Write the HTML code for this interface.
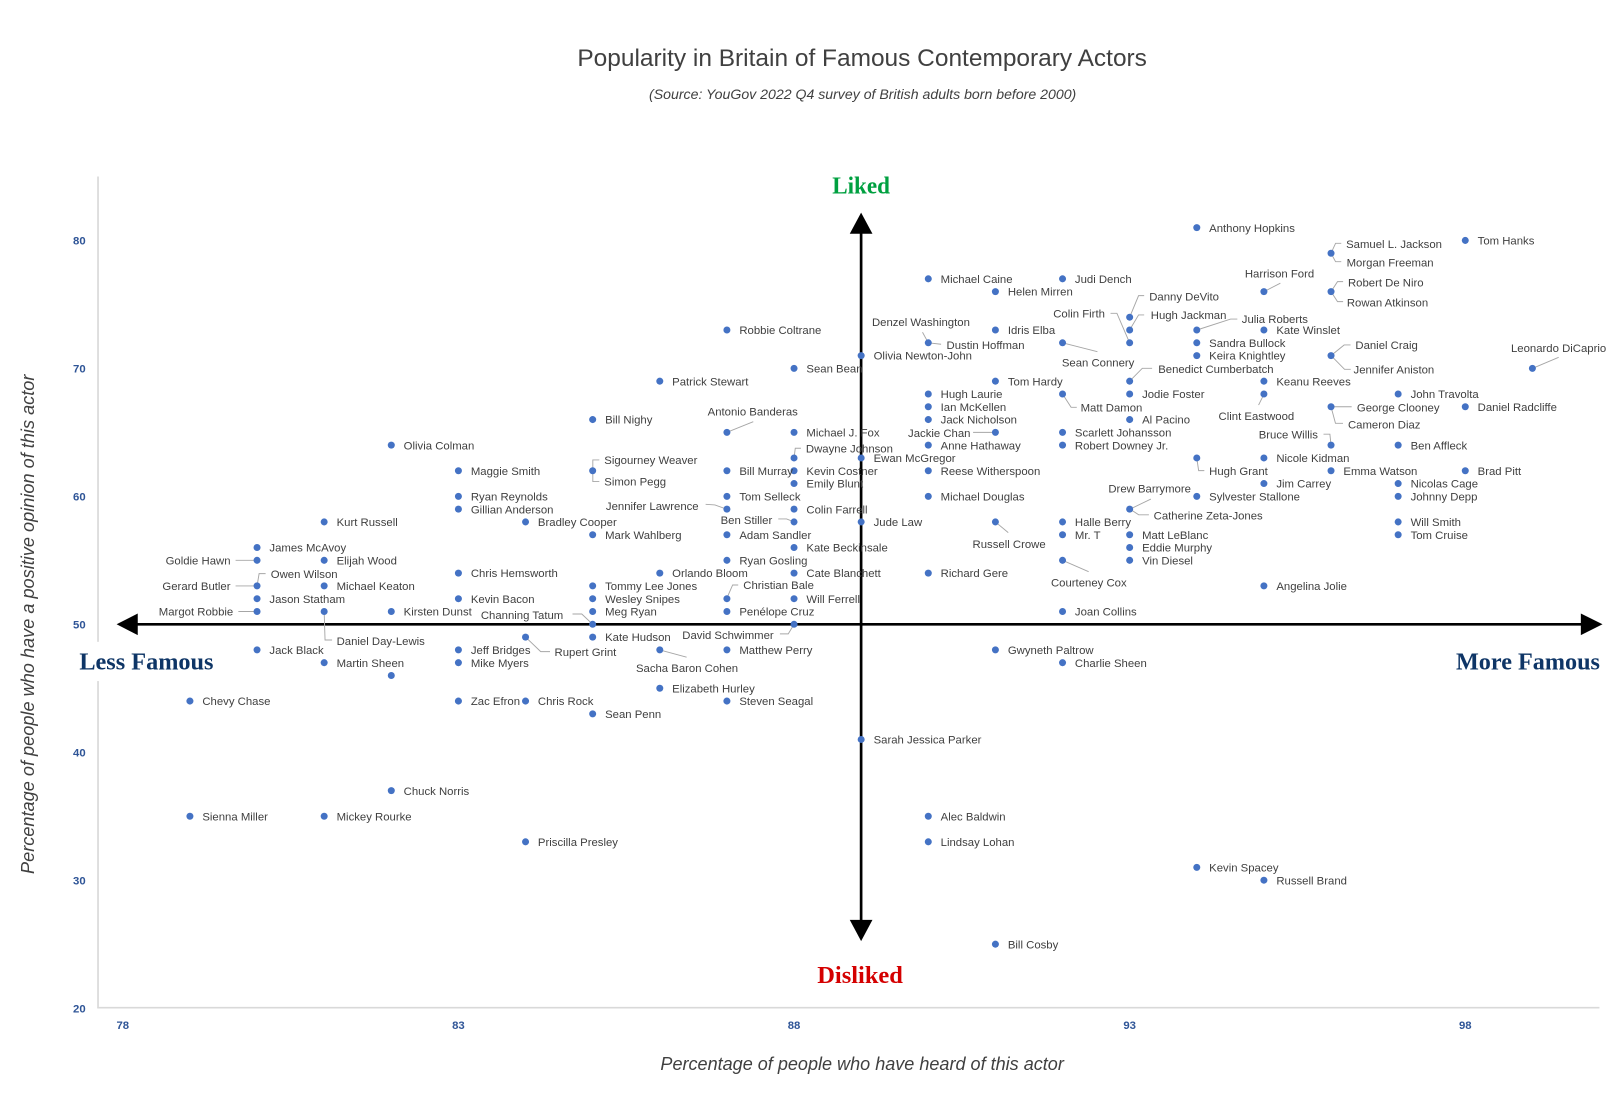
<!DOCTYPE html>
<html>
<head>
<meta charset="utf-8">
<style>
html,body{margin:0;padding:0;background:#fff;}
svg{display:block;}
.l{font-family:"Liberation Sans",Arial,sans-serif;font-size:11px;fill:#404040;}
.d{fill:#4472c4;}
.ld{fill:none;stroke:#a6a6a6;stroke-width:0.9;}
.tk{font-family:"Liberation Sans",Arial,sans-serif;font-size:11px;font-weight:bold;fill:#2f5597;}
.big{font-family:"Liberation Serif","DejaVu Serif",serif;font-weight:bold;font-size:24px;}
</style>
</head>
<body>
<svg width="1618" height="1100" viewBox="0 0 1568 1066" xmlns="http://www.w3.org/2000/svg">
<rect x="0" y="0" width="1568" height="1066" fill="#fff"/>

<!-- titles -->
<text x="835.5" y="64" text-anchor="middle" textLength="552" lengthAdjust="spacingAndGlyphs" style="font-family:'Liberation Sans',Arial,sans-serif;font-size:23.5px;fill:#404040;">Popularity in Britain of Famous Contemporary Actors</text>
<text x="836" y="96" text-anchor="middle" textLength="414" lengthAdjust="spacingAndGlyphs" style="font-family:'Liberation Sans',Arial,sans-serif;font-size:13.5px;font-style:italic;fill:#404040;">(Source:  YouGov 2022 Q4 survey of British adults born before 2000)</text>
<text transform="translate(33,605) rotate(-90)" text-anchor="middle" textLength="484" lengthAdjust="spacingAndGlyphs" style="font-family:'Liberation Sans',Arial,sans-serif;font-size:17.5px;font-style:italic;fill:#404040;">Percentage of people who have a positive opinion of this actor</text>
<text x="835.5" y="1037" text-anchor="middle" textLength="391" lengthAdjust="spacingAndGlyphs" style="font-family:'Liberation Sans',Arial,sans-serif;font-size:17.5px;font-style:italic;fill:#404040;">Percentage of people who have heard of this actor</text>

<!-- axes -->
<line x1="95" y1="171" x2="95" y2="976.5" stroke="#d9d9d9" stroke-width="1.6"/>
<line x1="94.2" y1="976.5" x2="1550" y2="976.5" stroke="#d9d9d9" stroke-width="1.6"/>

<!-- y ticks -->
<text class="tk" x="83" y="237" text-anchor="end">80</text>
<text class="tk" x="83" y="361" text-anchor="end">70</text>
<text class="tk" x="83" y="485" text-anchor="end">60</text>
<text class="tk" x="83" y="609" text-anchor="end">50</text>
<text class="tk" x="83" y="733" text-anchor="end">40</text>
<text class="tk" x="83" y="857" text-anchor="end">30</text>
<text class="tk" x="83" y="981" text-anchor="end">20</text>
<!-- x ticks -->
<text class="tk" x="119" y="997" text-anchor="middle">78</text>
<text class="tk" x="444.25" y="997" text-anchor="middle">83</text>
<text class="tk" x="769.5" y="997" text-anchor="middle">88</text>
<text class="tk" x="1094.75" y="997" text-anchor="middle">93</text>
<text class="tk" x="1420" y="997" text-anchor="middle">98</text>

<!-- Less famous box -->
<rect x="70" y="622" width="145" height="38" fill="#fff"/>
<text class="big" x="76.9" y="649" textLength="130" lengthAdjust="spacingAndGlyphs" fill="#0e3566">Less Famous</text>
<text class="big" x="1411" y="648.6" textLength="139.5" lengthAdjust="spacingAndGlyphs" fill="#0e3566">More Famous</text>
<text class="big" x="806.5" y="187.3" textLength="56" lengthAdjust="spacingAndGlyphs" fill="#00a040">Liked</text>
<text class="big" x="792" y="952.5" textLength="83" lengthAdjust="spacingAndGlyphs" fill="#d40000">Disliked</text>

<!-- arrows -->
<line x1="130" y1="605" x2="1536" y2="605" stroke="#000" stroke-width="2.6"/>
<polygon points="113,605 133.5,594.5 133.5,615.5" fill="#000"/>
<polygon points="1553,605 1532,594.5 1532,615.5" fill="#000"/>
<line x1="834.5" y1="222" x2="834.5" y2="895" stroke="#000" stroke-width="2.6"/>
<polygon points="834.5,206 823.5,226.5 845.5,226.5" fill="#000"/>
<polygon points="834.5,912 823.5,891.5 845.5,891.5" fill="#000"/>

<!-- leader lines -->
<polyline class="ld" points="1299.8,235.8 1294.3,235.8 1289.9,245.4 1294.3,253.6 1299.8,253.6"/>
<polyline class="ld" points="1301.6,272.9 1296.2,272.9 1289.9,282.6 1296.2,292.3 1301.6,292.3"/>
<polyline class="ld" points="1225.2,282.5 1240.8,274.4"/>
<polyline class="ld" points="1094.7,307.5 1103.4,286.5 1108.8,286.5"/>
<polyline class="ld" points="1094.7,319.8 1103.4,305.2 1108.8,305.2"/>
<polyline class="ld" points="1076.2,303.6 1082.4,303.6 1094.7,332.2"/>
<polyline class="ld" points="1159.9,319.8 1192.6,309.2 1199.1,309.2"/>
<polyline class="ld" points="894,322 899.6,332.2"/>
<polyline class="ld" points="899.6,332.2 912,333.6"/>
<polyline class="ld" points="1029.7,332.2 1063.5,340.8"/>
<polyline class="ld" points="1308.8,334.3 1302.6,334.3 1289.9,344.6 1303,357.9 1309,357.9"/>
<polyline class="ld" points="1485,357 1510.5,346.3"/>
<polyline class="ld" points="1094.7,369.4 1107,356.9 1116.5,356.9"/>
<polyline class="ld" points="1029.7,381.8 1038,394.7 1043.5,394.7"/>
<polyline class="ld" points="1225,381.8 1219.7,392.5"/>
<polyline class="ld" points="1289.9,394.2 1309.9,394.2"/>
<polyline class="ld" points="1289.9,394.2 1294.2,410.2 1301.5,410.2"/>
<polyline class="ld" points="704.45,419 730,408.6"/>
<polyline class="ld" points="943,419 964.65,419"/>
<polyline class="ld" points="1282.6,420.8 1288.8,420.8 1289.9,431.4"/>
<polyline class="ld" points="769.5,443.8 770.7,434.4 776.2,434.4"/>
<polyline class="ld" points="580.8,445.7 574.5,445.7 574.5,466.7 580.8,466.7"/>
<polyline class="ld" points="1159.8,443.8 1161.6,456.1 1167.1,456.1"/>
<polyline class="ld" points="683.8,488.7 692.8,489.3 704.2,493.4"/>
<polyline class="ld" points="754.2,502.9 762.3,502.9 769.5,505.8"/>
<polyline class="ld" points="964.65,505.8 977.1,516.2"/>
<polyline class="ld" points="1115.3,483.6 1095.1,493.4"/>
<polyline class="ld" points="1095.1,493.4 1103.5,498.9 1113.4,498.9"/>
<polyline class="ld" points="1029.7,543 1055,554"/>
<polyline class="ld" points="228.3,543 249.1,543"/>
<polyline class="ld" points="257.4,555.9 251.1,555.9 249.1,567.8"/>
<polyline class="ld" points="228.3,567.8 249.1,567.8"/>
<polyline class="ld" points="231,592.6 249.1,592.6"/>
<polyline class="ld" points="314.15,592.6 315,620.2 321.8,620.2"/>
<polyline class="ld" points="704.2,580.2 710,566.9 715.4,566.9"/>
<polyline class="ld" points="554.8,595 563.8,595 574.35,605"/>
<polyline class="ld" points="755.8,614.3 763.9,614.3 769.5,605"/>
<polyline class="ld" points="509.3,617.4 524,631.5 533,631.5"/>
<polyline class="ld" points="639.4,629.8 665.4,636.9"/>

<!-- dots -->
<g class="d">
<circle cx="1159.8" cy="220.6" r="3.4"/>
<circle cx="1420" cy="233" r="3.4"/>
<circle cx="1289.9" cy="245.4" r="3.4"/>
<circle cx="899.6" cy="270.2" r="3.4"/>
<circle cx="1029.7" cy="270.2" r="3.4"/>
<circle cx="964.65" cy="282.6" r="3.4"/>
<circle cx="1224.85" cy="282.6" r="3.4"/>
<circle cx="1289.9" cy="282.6" r="3.4"/>
<circle cx="1094.75" cy="307.4" r="3.4"/>
<circle cx="1094.75" cy="319.8" r="3.4"/>
<circle cx="1094.75" cy="332.2" r="3.4"/>
<circle cx="1159.8" cy="319.8" r="3.4"/>
<circle cx="1224.85" cy="319.8" r="3.4"/>
<circle cx="704.45" cy="319.8" r="3.4"/>
<circle cx="964.65" cy="319.8" r="3.4"/>
<circle cx="899.6" cy="332.2" r="3.4"/>
<circle cx="1029.7" cy="332.2" r="3.4"/>
<circle cx="1159.8" cy="332.2" r="3.4"/>
<circle cx="1159.8" cy="344.6" r="3.4"/>
<circle cx="1289.9" cy="344.6" r="3.4"/>
<circle cx="1485.05" cy="357" r="3.4"/>
<circle cx="834.55" cy="344.6" r="3.4"/>
<circle cx="769.5" cy="357" r="3.4"/>
<circle cx="1094.75" cy="369.4" r="3.4"/>
<circle cx="639.4" cy="369.4" r="3.4"/>
<circle cx="964.65" cy="369.4" r="3.4"/>
<circle cx="1224.85" cy="369.4" r="3.4"/>
<circle cx="899.6" cy="381.8" r="3.4"/>
<circle cx="1029.7" cy="381.8" r="3.4"/>
<circle cx="1094.75" cy="381.8" r="3.4"/>
<circle cx="1224.85" cy="381.8" r="3.4"/>
<circle cx="1354.95" cy="381.8" r="3.4"/>
<circle cx="899.6" cy="394.2" r="3.4"/>
<circle cx="1289.9" cy="394.2" r="3.4"/>
<circle cx="1420" cy="394.2" r="3.4"/>
<circle cx="574.35" cy="406.6" r="3.4"/>
<circle cx="899.6" cy="406.6" r="3.4"/>
<circle cx="1094.75" cy="406.6" r="3.4"/>
<circle cx="704.45" cy="419" r="3.4"/>
<circle cx="769.5" cy="419" r="3.4"/>
<circle cx="964.65" cy="419" r="3.4"/>
<circle cx="1029.7" cy="419" r="3.4"/>
<circle cx="1289.9" cy="431.4" r="3.4"/>
<circle cx="379.2" cy="431.4" r="3.4"/>
<circle cx="899.6" cy="431.4" r="3.4"/>
<circle cx="1029.7" cy="431.4" r="3.4"/>
<circle cx="1354.95" cy="431.4" r="3.4"/>
<circle cx="769.5" cy="443.8" r="3.4"/>
<circle cx="834.55" cy="443.8" r="3.4"/>
<circle cx="1159.8" cy="443.8" r="3.4"/>
<circle cx="1224.85" cy="443.8" r="3.4"/>
<circle cx="574.35" cy="456.2" r="3.4"/>
<circle cx="444.25" cy="456.2" r="3.4"/>
<circle cx="704.45" cy="456.2" r="3.4"/>
<circle cx="769.5" cy="456.2" r="3.4"/>
<circle cx="899.6" cy="456.2" r="3.4"/>
<circle cx="1289.9" cy="456.2" r="3.4"/>
<circle cx="1420" cy="456.2" r="3.4"/>
<circle cx="769.5" cy="468.6" r="3.4"/>
<circle cx="1224.85" cy="468.6" r="3.4"/>
<circle cx="1354.95" cy="468.6" r="3.4"/>
<circle cx="444.25" cy="481" r="3.4"/>
<circle cx="704.45" cy="481" r="3.4"/>
<circle cx="899.6" cy="481" r="3.4"/>
<circle cx="1159.8" cy="481" r="3.4"/>
<circle cx="1354.95" cy="481" r="3.4"/>
<circle cx="1094.75" cy="493.4" r="3.4"/>
<circle cx="444.25" cy="493.4" r="3.4"/>
<circle cx="704.45" cy="493.4" r="3.4"/>
<circle cx="769.5" cy="493.4" r="3.4"/>
<circle cx="314.15" cy="505.8" r="3.4"/>
<circle cx="509.3" cy="505.8" r="3.4"/>
<circle cx="769.5" cy="505.8" r="3.4"/>
<circle cx="834.55" cy="505.8" r="3.4"/>
<circle cx="964.65" cy="505.8" r="3.4"/>
<circle cx="1029.7" cy="505.8" r="3.4"/>
<circle cx="1354.95" cy="505.8" r="3.4"/>
<circle cx="574.35" cy="518.2" r="3.4"/>
<circle cx="704.45" cy="518.2" r="3.4"/>
<circle cx="1029.7" cy="518.2" r="3.4"/>
<circle cx="1094.75" cy="518.2" r="3.4"/>
<circle cx="1354.95" cy="518.2" r="3.4"/>
<circle cx="249.1" cy="530.6" r="3.4"/>
<circle cx="769.5" cy="530.6" r="3.4"/>
<circle cx="1094.75" cy="530.6" r="3.4"/>
<circle cx="249.1" cy="543" r="3.4"/>
<circle cx="314.15" cy="543" r="3.4"/>
<circle cx="704.45" cy="543" r="3.4"/>
<circle cx="1029.7" cy="543" r="3.4"/>
<circle cx="1094.75" cy="543" r="3.4"/>
<circle cx="249.1" cy="567.8" r="3.4"/>
<circle cx="444.25" cy="555.4" r="3.4"/>
<circle cx="639.4" cy="555.4" r="3.4"/>
<circle cx="769.5" cy="555.4" r="3.4"/>
<circle cx="899.6" cy="555.4" r="3.4"/>
<circle cx="314.15" cy="567.8" r="3.4"/>
<circle cx="574.35" cy="567.8" r="3.4"/>
<circle cx="704.45" cy="580.2" r="3.4"/>
<circle cx="1224.85" cy="567.8" r="3.4"/>
<circle cx="249.1" cy="580.2" r="3.4"/>
<circle cx="444.25" cy="580.2" r="3.4"/>
<circle cx="574.35" cy="580.2" r="3.4"/>
<circle cx="769.5" cy="580.2" r="3.4"/>
<circle cx="249.1" cy="592.6" r="3.4"/>
<circle cx="314.15" cy="592.6" r="3.4"/>
<circle cx="379.2" cy="592.6" r="3.4"/>
<circle cx="574.35" cy="592.6" r="3.4"/>
<circle cx="704.45" cy="592.6" r="3.4"/>
<circle cx="1029.7" cy="592.6" r="3.4"/>
<circle cx="574.35" cy="605" r="3.4"/>
<circle cx="769.5" cy="605" r="3.4"/>
<circle cx="574.35" cy="617.4" r="3.4"/>
<circle cx="509.3" cy="617.4" r="3.4"/>
<circle cx="249.1" cy="629.8" r="3.4"/>
<circle cx="444.25" cy="629.8" r="3.4"/>
<circle cx="639.4" cy="629.8" r="3.4"/>
<circle cx="704.45" cy="629.8" r="3.4"/>
<circle cx="964.65" cy="629.8" r="3.4"/>
<circle cx="314.15" cy="642.2" r="3.4"/>
<circle cx="444.25" cy="642.2" r="3.4"/>
<circle cx="1029.7" cy="642.2" r="3.4"/>
<circle cx="379.2" cy="654.6" r="3.4"/>
<circle cx="639.4" cy="667" r="3.4"/>
<circle cx="184.05" cy="679.4" r="3.4"/>
<circle cx="444.25" cy="679.4" r="3.4"/>
<circle cx="509.3" cy="679.4" r="3.4"/>
<circle cx="704.45" cy="679.4" r="3.4"/>
<circle cx="574.35" cy="691.8" r="3.4"/>
<circle cx="834.55" cy="716.6" r="3.4"/>
<circle cx="379.2" cy="766.2" r="3.4"/>
<circle cx="184.05" cy="791" r="3.4"/>
<circle cx="314.15" cy="791" r="3.4"/>
<circle cx="899.6" cy="791" r="3.4"/>
<circle cx="509.3" cy="815.8" r="3.4"/>
<circle cx="899.6" cy="815.8" r="3.4"/>
<circle cx="1159.8" cy="840.6" r="3.4"/>
<circle cx="1224.85" cy="853" r="3.4"/>
<circle cx="964.65" cy="915" r="3.4"/>
</g>

<!-- labels -->
<g class="l">
<text x="1171.8" y="224.6">Anthony Hopkins</text>
<text x="1432" y="237">Tom Hanks</text>
<text x="1304.5" y="240.5">Samuel L. Jackson</text>
<text x="1305" y="258.5">Morgan Freeman</text>
<text x="1306.3" y="277.6">Robert De Niro</text>
<text x="1305.2" y="297">Rowan Atkinson</text>
<text x="1206.4" y="268.9">Harrison Ford</text>
<text x="911.6" y="274.2">Michael Caine</text>
<text x="1041.7" y="274.2">Judi Dench</text>
<text x="976.7" y="286.6">Helen Mirren</text>
<text x="1113.7" y="291.2">Danny DeVito</text>
<text x="1115.2" y="309.2">Hugh Jackman</text>
<text x="1070.8" y="307.6" text-anchor="end">Colin Firth</text>
<text x="1203.4" y="313.2">Julia Roberts</text>
<text x="1236.9" y="323.8">Kate Winslet</text>
<text x="716.5" y="323.8">Robbie Coltrane</text>
<text x="976.7" y="323.8">Idris Elba</text>
<text x="845" y="316">Denzel Washington</text>
<text x="917.3" y="338">Dustin Hoffman</text>
<text x="1029" y="355">Sean Connery</text>
<text x="1171.8" y="336.2">Sandra Bullock</text>
<text x="1171.8" y="348.6">Keira Knightley</text>
<text x="1313.5" y="338.3">Daniel Craig</text>
<text x="1311.7" y="361.9">Jennifer Aniston</text>
<text x="1464.3" y="340.9">Leonardo DiCaprio</text>
<text x="846.6" y="348.6">Olivia Newton-John</text>
<text x="781.5" y="361">Sean Bean</text>
<text x="1122.4" y="361.6">Benedict Cumberbatch</text>
<text x="651.4" y="373.4">Patrick Stewart</text>
<text x="976.7" y="373.4">Tom Hardy</text>
<text x="1236.9" y="373.4">Keanu Reeves</text>
<text x="911.6" y="385.8">Hugh Laurie</text>
<text x="1047.2" y="398.7">Matt Damon</text>
<text x="1106.8" y="385.8">Jodie Foster</text>
<text x="1180.9" y="407.1">Clint Eastwood</text>
<text x="1367" y="385.8">John Travolta</text>
<text x="911.6" y="398.2">Ian McKellen</text>
<text x="1315" y="398.7">George Clooney</text>
<text x="1306.3" y="415.2">Cameron Diaz</text>
<text x="1432" y="398.2">Daniel Radcliffe</text>
<text x="586.4" y="410.6">Bill Nighy</text>
<text x="911.6" y="410.6">Jack Nicholson</text>
<text x="1106.8" y="410.6">Al Pacino</text>
<text x="685.8" y="402.6">Antonio Banderas</text>
<text x="781.5" y="423">Michael J. Fox</text>
<text x="880" y="423.6">Jackie Chan</text>
<text x="1041.7" y="423">Scarlett Johansson</text>
<text x="1219.8" y="424.9">Bruce Willis</text>
<text x="391.2" y="435.4">Olivia Colman</text>
<text x="781" y="438.4">Dwayne Johnson</text>
<text x="911.6" y="435.4">Anne Hathaway</text>
<text x="1041.7" y="435.4">Robert Downey Jr.</text>
<text x="1367" y="435.4">Ben Affleck</text>
<text x="585.6" y="449.7">Sigourney Weaver</text>
<text x="585.6" y="470.7">Simon Pegg</text>
<text x="846.6" y="447.8">Ewan McGregor</text>
<text x="1171.8" y="460.1">Hugh Grant</text>
<text x="1236.9" y="447.8">Nicole Kidman</text>
<text x="456.3" y="460.2">Maggie Smith</text>
<text x="716.5" y="460.2">Bill Murray</text>
<text x="781.5" y="460.2">Kevin Costner</text>
<text x="911.6" y="460.2">Reese Witherspoon</text>
<text x="1301.9" y="460.2">Emma Watson</text>
<text x="1432" y="460.2">Brad Pitt</text>
<text x="781.5" y="472.6">Emily Blunt</text>
<text x="1236.9" y="472.6">Jim Carrey</text>
<text x="1367" y="472.6">Nicolas Cage</text>
<text x="456.3" y="485">Ryan Reynolds</text>
<text x="716.5" y="485">Tom Selleck</text>
<text x="911.6" y="485">Michael Douglas</text>
<text x="1171.8" y="485">Sylvester Stallone</text>
<text x="1367" y="485">Johnny Depp</text>
<text x="1074.1" y="477.2">Drew Barrymore</text>
<text x="1118" y="503.4">Catherine Zeta-Jones</text>
<text x="456.3" y="497.4">Gillian Anderson</text>
<text x="587.2" y="494">Jennifer Lawrence</text>
<text x="781.5" y="497.4">Colin Farrell</text>
<text x="326.2" y="509.8">Kurt Russell</text>
<text x="521.3" y="509.8">Bradley Cooper</text>
<text x="698.3" y="507.9">Ben Stiller</text>
<text x="846.6" y="509.8">Jude Law</text>
<text x="942.5" y="531.1">Russell Crowe</text>
<text x="1041.7" y="509.8">Halle Berry</text>
<text x="1367" y="509.8">Will Smith</text>
<text x="586.4" y="522.2">Mark Wahlberg</text>
<text x="716.5" y="522.2">Adam Sandler</text>
<text x="1041.7" y="522.2">Mr. T</text>
<text x="1106.8" y="522.2">Matt LeBlanc</text>
<text x="1367" y="522.2">Tom Cruise</text>
<text x="261.1" y="534.6">James McAvoy</text>
<text x="781.5" y="534.6">Kate Beckinsale</text>
<text x="1106.8" y="534.6">Eddie Murphy</text>
<text x="223.4" y="547" text-anchor="end">Goldie Hawn</text>
<text x="326.2" y="547">Elijah Wood</text>
<text x="716.5" y="547">Ryan Gosling</text>
<text x="1018.5" y="568.6">Courteney Cox</text>
<text x="1106.8" y="547">Vin Diesel</text>
<text x="262.4" y="559.9">Owen Wilson</text>
<text x="223.4" y="571.8" text-anchor="end">Gerard Butler</text>
<text x="456.3" y="559.4">Chris Hemsworth</text>
<text x="651.4" y="559.4">Orlando Bloom</text>
<text x="781.5" y="559.4">Cate Blanchett</text>
<text x="911.6" y="559.4">Richard Gere</text>
<text x="326.2" y="571.8">Michael Keaton</text>
<text x="586.4" y="571.8">Tommy Lee Jones</text>
<text x="720.3" y="570.9">Christian Bale</text>
<text x="1236.9" y="571.8">Angelina Jolie</text>
<text x="261.1" y="584.2">Jason Statham</text>
<text x="456.3" y="584.2">Kevin Bacon</text>
<text x="586.4" y="584.2">Wesley Snipes</text>
<text x="781.5" y="584.2">Will Ferrell</text>
<text x="226" y="596.6" text-anchor="end">Margot Robbie</text>
<text x="326.2" y="625.2">Daniel Day-Lewis</text>
<text x="391.2" y="596.6">Kirsten Dunst</text>
<text x="586.4" y="596.6">Meg Ryan</text>
<text x="716.5" y="596.6">Penélope Cruz</text>
<text x="1041.7" y="596.6">Joan Collins</text>
<text x="466" y="600">Channing Tatum</text>
<text x="661.2" y="619.3">David Schwimmer</text>
<text x="586.4" y="621.4">Kate Hudson</text>
<text x="537.4" y="635.8">Rupert Grint</text>
<text x="261.1" y="633.8">Jack Black</text>
<text x="456.3" y="633.8">Jeff Bridges</text>
<text x="616.3" y="651">Sacha Baron Cohen</text>
<text x="716.5" y="633.8">Matthew Perry</text>
<text x="976.7" y="633.8">Gwyneth Paltrow</text>
<text x="326.2" y="646.2">Martin Sheen</text>
<text x="456.3" y="646.2">Mike Myers</text>
<text x="1041.7" y="646.2">Charlie Sheen</text>
<text x="651.4" y="671">Elizabeth Hurley</text>
<text x="196.1" y="683.4">Chevy Chase</text>
<text x="456.3" y="683.4">Zac Efron</text>
<text x="521.3" y="683.4">Chris Rock</text>
<text x="716.5" y="683.4">Steven Seagal</text>
<text x="586.4" y="695.8">Sean Penn</text>
<text x="846.6" y="720.6">Sarah Jessica Parker</text>
<text x="391.2" y="770.2">Chuck Norris</text>
<text x="196.1" y="795">Sienna Miller</text>
<text x="326.2" y="795">Mickey Rourke</text>
<text x="911.6" y="795">Alec Baldwin</text>
<text x="521.3" y="819.8">Priscilla Presley</text>
<text x="911.6" y="819.8">Lindsay Lohan</text>
<text x="1171.8" y="844.6">Kevin Spacey</text>
<text x="1236.9" y="857">Russell Brand</text>
<text x="976.7" y="919">Bill Cosby</text>
</g>
</svg>
</body>
</html>
